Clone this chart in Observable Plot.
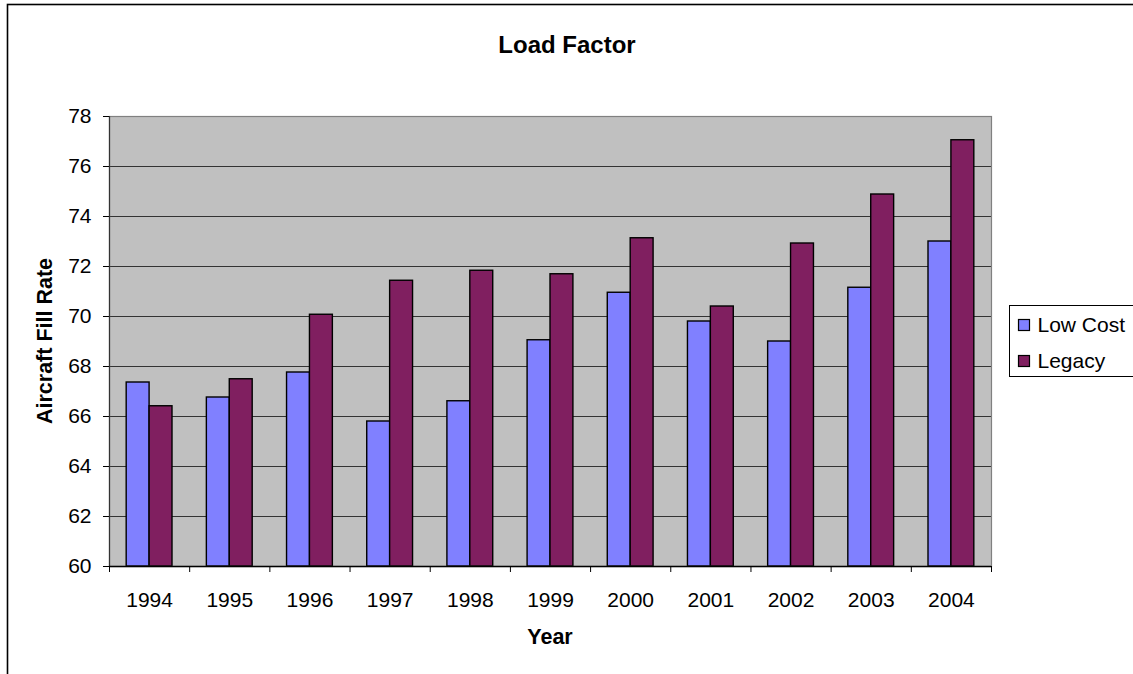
<!DOCTYPE html>
<html>
<head>
<meta charset="utf-8">
<script src="https://cdn.jsdelivr.net/npm/d3@7"></script>
<script src="https://cdn.jsdelivr.net/npm/@observablehq/plot@0.6"></script>
<style>
  html, body { margin: 0; padding: 0; background: #fff; }
  svg text { font-family: "Liberation Sans", Arial, sans-serif; }
</style>
</head>
<body>
<div id="chart"></div>
<script>
// Average load factor (aircraft fill rate, %) by carrier type
const years = [1994, 1995, 1996, 1997, 1998, 1999, 2000, 2001, 2002, 2003, 2004];
const lowCost = [67.36, 66.76, 67.76, 65.80, 66.61, 69.05, 70.95, 69.80, 69.00, 71.15, 73.00];
const legacy  = [66.41, 67.49, 70.07, 71.43, 71.83, 71.69, 73.13, 70.40, 72.92, 74.88, 77.05];
const seriesNames = ["Low Cost", "Legacy"];
const seriesColors = ["#8080ff", "#801f60"];
const yTicks = [60, 62, 64, 66, 68, 70, 72, 74, 76, 78];

const title = "Load Factor";
const xTitle = "Year";
const yTitle = "Aircraft Fill Rate";

const W = 1133, H = 674;
const margin = {top: 116, right: 142, bottom: 108, left: 109};
const step = (W - margin.left - margin.right) / years.length;
const barW = step / 1.75 / 2;               // two bars per year, 75% gap
const outer = (step - 2 * barW) / 2;

const rows = years.map((year, i) => ({year, lowCost: lowCost[i], legacy: legacy[i]}));
const bounds = [...years.map(y => y - 0.5), years[years.length - 1] + 0.5];

const font = "'Liberation Sans', Arial, sans-serif";

const plot = Plot.plot({
  width: W,
  height: H,
  marginTop: margin.top,
  marginRight: margin.right,
  marginBottom: margin.bottom,
  marginLeft: margin.left,
  style: {fontFamily: font, fontSize: "21px", background: "#fff", color: "#000"},
  x: {type: "linear", domain: [years[0] - 0.5, years[years.length - 1] + 0.5], axis: null},
  y: {domain: [yTicks[0], yTicks[yTicks.length - 1]], axis: null},
  marks: [
    Plot.frame({fill: "#c0c0c0", stroke: null}),
    Plot.ruleY(yTicks, {stroke: "#333", strokeWidth: 1}),
    Plot.rectY(rows, {
      x1: d => d.year - 0.5, x2: d => d.year + 0.5,
      y1: yTicks[0], y2: "lowCost",
      insetLeft: outer, insetRight: outer + barW,
      fill: seriesColors[0], stroke: "#000", strokeWidth: 1.4
    }),
    Plot.rectY(rows, {
      x1: d => d.year - 0.5, x2: d => d.year + 0.5,
      y1: yTicks[0], y2: "legacy",
      insetLeft: outer + barW, insetRight: outer,
      fill: seriesColors[1], stroke: "#000", strokeWidth: 1.4
    }),
    Plot.frame({stroke: "#808080", strokeWidth: 1.2}),
    Plot.ruleX([bounds[0]], {y1: yTicks[0], y2: yTicks[yTicks.length - 1], stroke: "#333", strokeWidth: 1.2}),
    Plot.ruleY([yTicks[0]], {stroke: "#000", strokeWidth: 1.4}),
    Plot.ruleX(bounds, {y1: yTicks[0], y2: yTicks[0], insetBottom: -6, stroke: "#000", strokeWidth: 1}),
    Plot.axisY({ticks: yTicks, tickSize: 6, tickPadding: 12, fontSize: 21, label: null}),
    Plot.axisX({ticks: years, tickFormat: d => String(d), tickSize: 0, tickPadding: 26, fontSize: 21, label: null})
  ]
});

const svg = d3.select(plot);

// outer chart border
svg.insert("rect", ":first-child")
  .attr("x", 7.5).attr("y", 4.5)
  .attr("width", W + 20).attr("height", H + 20)
  .attr("fill", "#fff").attr("stroke", "#000").attr("stroke-width", 1.6);

svg.append("text")
  .attr("x", 567).attr("y", 53)
  .attr("text-anchor", "middle")
  .attr("font-size", 24).attr("font-weight", "bold")
  .text(title);

svg.append("text")
  .attr("x", margin.left + (W - margin.left - margin.right) / 2).attr("y", 644)
  .attr("text-anchor", "middle")
  .attr("font-size", 21.5).attr("font-weight", "bold")
  .text(xTitle);

svg.append("text")
  .attr("transform", `translate(52,${margin.top + (H - margin.top - margin.bottom) / 2}) rotate(-90)`)
  .attr("text-anchor", "middle")
  .attr("font-size", 21.5).attr("font-weight", "bold")
  .text(yTitle);

// legend
const legend = svg.append("g").attr("transform", "translate(1009.5,305.5)");
legend.append("rect")
  .attr("width", 140).attr("height", 71)
  .attr("fill", "#fff").attr("stroke", "#000").attr("stroke-width", 1);
seriesNames.forEach((name, i) => {
  const g = legend.append("g").attr("transform", `translate(0,${i * 36})`);
  g.append("rect")
    .attr("x", 9).attr("y", 14).attr("width", 11).attr("height", 11)
    .attr("fill", seriesColors[i]).attr("stroke", "#000").attr("stroke-width", 1.2);
  g.append("text")
    .attr("x", 28).attr("y", 26)
    .attr("text-anchor", "start")
    .attr("font-size", 21)
    .text(name);
});

document.getElementById("chart").append(plot);
</script>
</body>
</html>
